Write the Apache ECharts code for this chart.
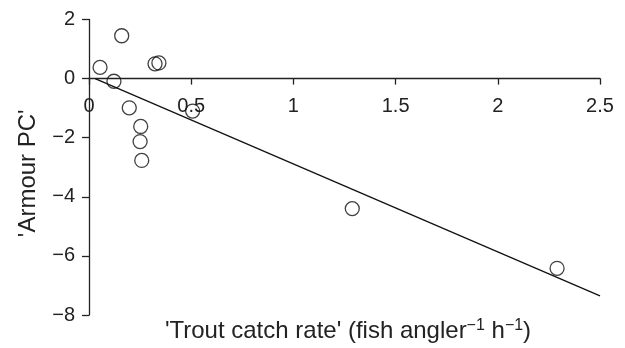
<!DOCTYPE html>
<html>
<head>
<meta charset="utf-8">
<script src="https://cdn.jsdelivr.net/npm/echarts@6/dist/echarts.min.js"></script>
<style>html,body{margin:0;padding:0;background:#fff;}#c{width:625px;height:348px;}</style>
</head>
<body>
<div id="c"></div>
<script>
var catchRate = [0.054, 0.16, 0.122, 0.323, 0.342, 0.197, 0.507, 0.253, 0.25, 0.258, 1.288, 2.29];
var armourPC  = [0.38, 1.45, -0.09, 0.50, 0.53, -0.99, -1.10, -1.62, -2.13, -2.77, -4.40, -6.42];
var fitX = [0.03, 2.5];
var fitY = [0.0, -7.35];

var pts = catchRate.map(function (x, i) { return [x, armourPC[i]]; });
var fit = fitX.map(function (x, i) { return [x, fitY[i]]; });
var txt = '#222';
var font = 'Liberation Sans, Arial, sans-serif';

var chart = echarts.init(document.getElementById('c'), null, {renderer: 'canvas'});
chart.setOption({
  animation: false,
  backgroundColor: '#fff',
  grid: {left: 89, right: 25, top: 19.5, bottom: 33},
  title: {
    text: "'Trout catch rate' (fish angler{s|−1} h{s|−1})",
    left: 348, top: 318, textAlign: 'center', padding: 0,
    textStyle: {
      color: txt, fontSize: 24, fontWeight: 'normal', fontFamily: font,
      rich: {s: {fontSize: 16, verticalAlign: 'top', color: txt, fontFamily: font, padding: [0, 0, 11, 0]}}
    }
  },
  xAxis: {
    type: 'value', min: 0, max: 2.5, interval: 0.5,
    axisLine: {onZero: true, lineStyle: {color: '#222', width: 1.3}},
    axisTick: {show: true, inside: false, length: 6, lineStyle: {color: '#222', width: 1.3}},
    axisLabel: {color: txt, fontSize: 20, fontFamily: font, margin: -219,
      formatter: function (v) { return String(v).replace('-', '−'); }},
    splitLine: {show: false}
  },
  yAxis: {
    type: 'value', min: -8, max: 2, interval: 2,
    name: "'Armour PC'", nameLocation: 'middle', nameRotate: 90, nameGap: 49,
    nameTextStyle: {color: txt, fontSize: 24, fontFamily: font, padding: [0, 0, 0, -12]},
    axisLine: {show: true, lineStyle: {color: '#222', width: 1.3}},
    axisTick: {show: true, length: 7, lineStyle: {color: '#222', width: 1.3}},
    axisLabel: {color: txt, fontSize: 20, fontFamily: font, margin: 14,
      formatter: function (v) { return String(v).replace('-', '−'); }},
    splitLine: {show: false}
  },
  series: [
    {
      type: 'line', data: fit, symbol: 'none', silent: true,
      lineStyle: {color: '#111', width: 1.3}
    },
    {
      type: 'scatter', data: pts, symbol: 'circle', symbolSize: 14,
      itemStyle: {color: 'rgba(0,0,0,0)', borderColor: '#111', borderWidth: 1.3}
    }
  ]
});
</script>
</body>
</html>
